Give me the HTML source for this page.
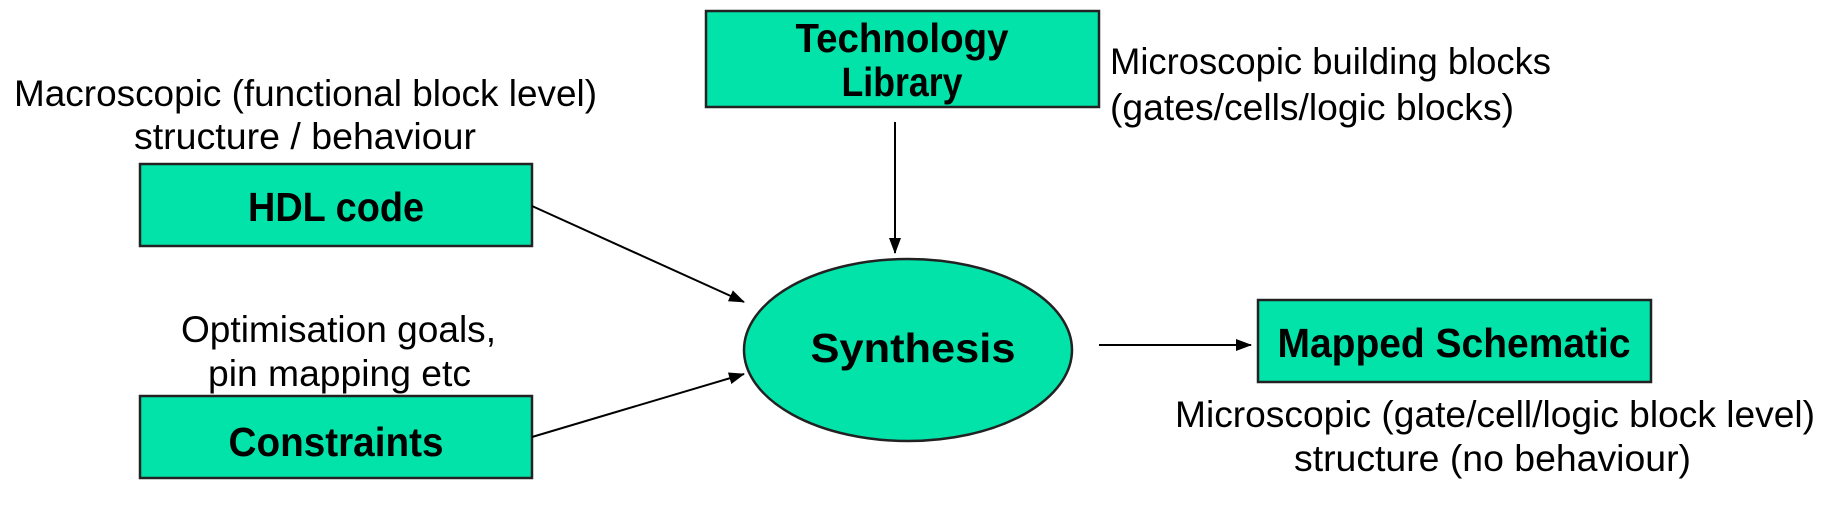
<!DOCTYPE html>
<html><head><meta charset="utf-8"><style>
html,body{margin:0;padding:0;background:#fff;}
svg{display:block;}
text{font-family:"Liberation Sans",sans-serif;fill:#000;}
.n{font-size:37px;}
.b{font-size:41px;font-weight:bold;}
</style></head><body>
<svg width="1828" height="508" viewBox="0 0 1828 508" xmlns="http://www.w3.org/2000/svg">
<defs><marker id="a" markerWidth="16" markerHeight="12" refX="15" refY="6" orient="auto" markerUnits="userSpaceOnUse"><path d="M0,0 L16,6 L0,12 Z" fill="#000"/></marker></defs>
<g fill="#02E3A9" stroke="#222" stroke-width="2.5">
<rect x="706" y="11" width="393" height="96"/>
<rect x="140" y="164" width="392" height="82"/>
<rect x="140" y="396" width="392" height="82"/>
<rect x="1258" y="300" width="393" height="82"/>
<ellipse cx="908" cy="350" rx="164" ry="91"/>
</g>
<g stroke="#000" stroke-width="2" marker-end="url(#a)">
<line x1="895" y1="122" x2="895" y2="253"/>
<line x1="532" y1="206" x2="744" y2="302"/>
<line x1="532" y1="437" x2="744" y2="374"/>
<line x1="1099" y1="345" x2="1251" y2="345"/>
</g>
<g class="b" text-anchor="middle">
<text x="902" y="52" textLength="213" lengthAdjust="spacingAndGlyphs">Technology</text>
<text x="902" y="96" textLength="121" lengthAdjust="spacingAndGlyphs">Library</text>
<text x="336" y="221" textLength="176" lengthAdjust="spacingAndGlyphs">HDL code</text>
<text x="336" y="456" textLength="215" lengthAdjust="spacingAndGlyphs">Constraints</text>
<text x="913" y="362" textLength="205" lengthAdjust="spacingAndGlyphs">Synthesis</text>
<text x="1454" y="357" textLength="353" lengthAdjust="spacingAndGlyphs">Mapped Schematic</text>
</g>
<g class="n">
<text x="14" y="106" textLength="583" lengthAdjust="spacingAndGlyphs">Macroscopic (functional block level)</text>
<text x="134" y="149" textLength="342" lengthAdjust="spacingAndGlyphs">structure / behaviour</text>
<text x="181" y="342" textLength="315" lengthAdjust="spacingAndGlyphs">Optimisation goals,</text>
<text x="208" y="386" textLength="263" lengthAdjust="spacingAndGlyphs">pin mapping etc</text>
<text x="1110" y="74" textLength="441" lengthAdjust="spacingAndGlyphs">Microscopic building blocks</text>
<text x="1110" y="120" textLength="404" lengthAdjust="spacingAndGlyphs">(gates/cells/logic blocks)</text>
<text x="1175" y="427" textLength="640" lengthAdjust="spacingAndGlyphs">Microscopic (gate/cell/logic block level)</text>
<text x="1294" y="471" textLength="397" lengthAdjust="spacingAndGlyphs">structure (no behaviour)</text>
</g>
</svg>
</body></html>
